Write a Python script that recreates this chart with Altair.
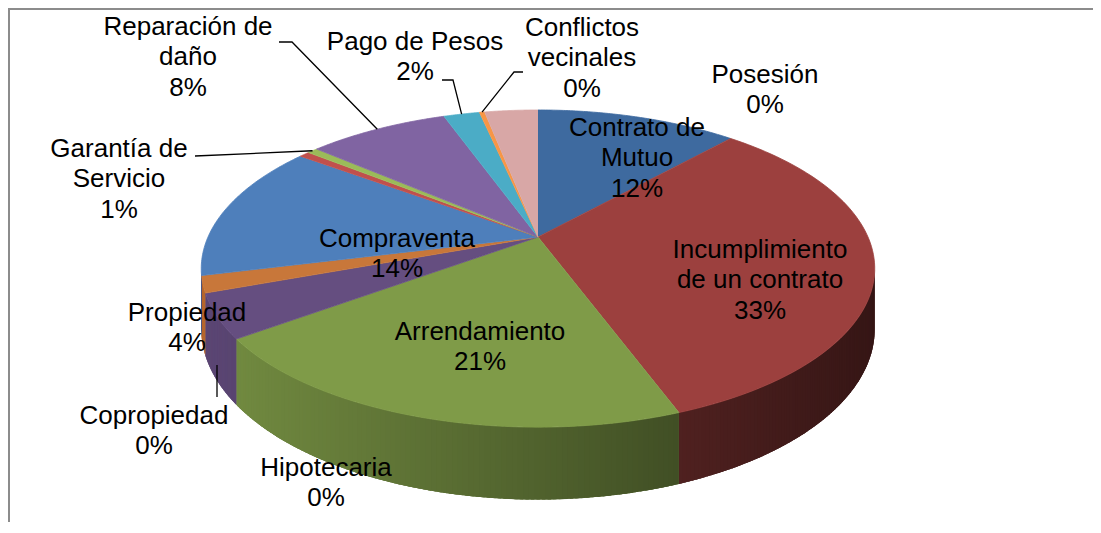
import math
import altair as alt
import pandas as pd

# ---------------- data ----------------
categories = ["Contrato de Mutuo", "Incumplimiento de un contrato", "Arrendamiento",
              "Propiedad", "Copropiedad", "Compraventa", "Hipotecaria",
              "Garantía de Servicio", "Reparación de daño", "Pago de Pesos",
              "Conflictos vecinales", "Posesión"]
values = [11.7, 32.7, 20.6, 4.5, 1.7, 14.0, 0.6, 0.6, 8.2, 2.1, 0.3, 3.1]
name_lines = ["Contrato de\nMutuo", "Incumplimiento\nde un contrato", "Arrendamiento",
              "Propiedad", "Copropiedad", "Compraventa", "Hipotecaria",
              "Garantía de\nServicio", "Reparación de\ndaño", "Pago de Pesos",
              "Conflictos\nvecinales", "Posesión"]
percent_labels = ["12%", "33%", "21%", "4%", "0%", "14%", "0%", "1%", "8%", "2%", "0%", "0%"]
colors = ["#3E6A9F", "#9C403E", "#7F9B48", "#654E80", "#C8773A", "#4E7FBB",
          "#C0504D", "#9BBB59", "#8064A2", "#4BACC6", "#F79646", "#D8A7A6"]

# label layout (page pixels, centre of each text block)
label_x = [637, 760, 480, 187, 154, 397, 326, 119, 188, 415, 582, 765]
label_y = [158, 280, 347, 328, 431, 254, 483, 179, 57, 57, 58, 90]

# leader lines: label-side points; a None point means "the slice rim"
leader_cats = ["Copropiedad", "Garantía de Servicio", "Reparación de daño",
               "Pago de Pesos", "Conflictos vecinales"]
leader_px = [[217, 217], [195, None], [279, 292, None], [442, 453, None], [523, 514, None]]
leader_py = [[397, 365], [156, None], [42, 42, None], [80, 80, None], [72, 72, None]]

# ---------------- layout ----------------
W, H = 1085, 514
X0, Y0 = 8, 8                      # page margin: scales read in page pixels
CX, CY = 538, 237                  # projected pie centre
A, BV, K, D = 330, 152.3, 0.199, 58  # perspective ellipse, depth of the side wall
S1 = math.acos(-K)
S2 = 2 * math.pi - S1
LH = 30.5

slices = pd.DataFrame({
    "cat": categories, "val": values, "color": colors,
    "ord": list(range(len(categories))),
    "r": [int(c[1:3], 16) for c in colors],
    "g": [int(c[3:5], 16) for c in colors],
    "b": [int(c[5:7], 16) for c in colors],
})
texts_full = [n + "\n" + p for n, p in zip(name_lines, percent_labels)]
labels_df = pd.DataFrame({
    "cat": categories,
    "text": texts_full,
    "nl": [t.count("\n") + 1 for t in texts_full],
    "lx": label_x, "ly": label_y,
})
leader_records = [
    {"cat": c, "lpx": px, "lpy": py, "lst": list(range(len(px)))}
    for c, px, py in zip(leader_cats, leader_px, leader_py)
]

xs = alt.Scale(domain=[X0, X0 + W], zero=False, nice=False)
ys = alt.Scale(domain=[Y0, Y0 + H], zero=False, nice=False, reverse=True)


def xexpr(t):
    return f"{CX} + {A}*sin({t})/(1+{K}*cos({t}))"


def yexpr(t):
    return f"{CY} - {BV}*cos({t})/(1+{K}*cos({t}))"


def shade_expr(t):
    return f"clamp(0.63 - 0.28*sin({t})/(1+{K}*cos({t})), 0.3, 0.97)"


RGB = "'rgb(' + round(datum.r*datum.f) + ',' + round(datum.g*datum.f) + ',' + round(datum.b*datum.f) + ')'"


def with_angles(ch):
    return (ch.transform_window(cum="sum(val)", sort=[alt.SortField("ord")], frame=[None, 0])
              .transform_joinaggregate(total="sum(val)")
              .transform_calculate(a0="2*PI*(datum.cum-datum.val)/datum.total")
              .transform_calculate(a1="2*PI*datum.cum/datum.total"))


def front_range(ch):
    return (with_angles(ch)
            .transform_calculate(lo=f"max(datum.a0, {S1})")
            .transform_calculate(hi=f"min(datum.a1, {S2})")
            .transform_filter("datum.lo < datum.hi"))


X = alt.X("px:Q", scale=xs, axis=None)
Y = alt.Y("py:Q", scale=ys, axis=None)

# ---- side walls: one base polygon per slice ----
NB = 60
wall_base = (front_range(alt.Chart(slices))
             .transform_calculate(ks=f"sequence(0, {2 * (NB + 1)})")
             .transform_flatten(["ks"], as_=["k"])
             .transform_calculate(
                 t=f"datum.k <= {NB} ? datum.lo + (datum.hi-datum.lo)*datum.k/{NB} : "
                   f"datum.lo + (datum.hi-datum.lo)*({2 * NB + 1} - datum.k)/{NB}")
             .transform_calculate(px=xexpr("datum.t"))
             .transform_calculate(ytop=yexpr("datum.t"))
             .transform_calculate(py=f"datum.k <= {NB} ? datum.ytop : datum.ytop + {D}/(1+{K}*cos(datum.t))")
             .transform_calculate(f=shade_expr("(datum.lo + datum.hi)/2"))
             .transform_calculate(shade=RGB)
             .mark_line(filled=True, strokeWidth=0, interpolate="linear")
             .encode(x=X, y=Y, order="k:Q", detail="cat:N",
                     color=alt.Color("shade:N", scale=None)))

# ---- side walls: shaded strips (each overlaps the next a little, hiding seams) ----
M = 96
walls = (front_range(alt.Chart(slices))
         .transform_calculate(js=f"sequence(0, {M})")
         .transform_flatten(["js"], as_=["j"])
         .transform_calculate(vs="sequence(0, 4)")
         .transform_flatten(["vs"], as_=["v"])
         .transform_calculate(tA=f"datum.lo + (datum.hi-datum.lo)*datum.j/{M}")
         .transform_calculate(tB=f"min(datum.hi, datum.lo + (datum.hi-datum.lo)*(datum.j+1.6)/{M})")
         .transform_calculate(t="(datum.v == 0 || datum.v == 3) ? datum.tA : datum.tB")
         .transform_calculate(tm=f"datum.lo + (datum.hi-datum.lo)*(datum.j+0.5)/{M}")
         .transform_calculate(seg="datum.cat + '_' + datum.j")
         .transform_calculate(px=xexpr("datum.t"))
         .transform_calculate(ytop=yexpr("datum.t"))
         .transform_calculate(py=f"datum.v < 2 ? datum.ytop : datum.ytop + {D}/(1+{K}*cos(datum.t))")
         .transform_calculate(f=shade_expr("datum.tm"))
         .transform_calculate(shade=RGB)
         .mark_line(filled=True, strokeWidth=0, interpolate="linear")
         .encode(x=X, y=Y, order="v:Q", detail="seg:N",
                 color=alt.Color("shade:N", scale=None)))

# ---- top faces ----
N = 80
tops = (with_angles(alt.Chart(slices))
        .transform_calculate(ks=f"sequence(0, {N + 2})")
        .transform_flatten(["ks"], as_=["k"])
        .transform_calculate(t=f"datum.a0 + (datum.a1 - datum.a0)*(datum.k - 1)/{N}")
        .transform_calculate(px=f"datum.k == 0 ? {CX} : " + xexpr("datum.t"))
        .transform_calculate(py=f"datum.k == 0 ? {CY} : " + yexpr("datum.t"))
        .mark_line(filled=True, strokeWidth=0.8, interpolate="linear")
        .encode(x=X, y=Y, order="k:Q", detail="cat:N",
                color=alt.Color("color:N", scale=None),
                stroke=alt.Stroke("color:N", scale=None)))

# ---- leader lines ----
leaders = (with_angles(alt.Chart(slices))
           .transform_lookup(lookup="cat",
                             from_=alt.LookupData(data=alt.InlineData(values=leader_records),
                                                  key="cat", fields=["lpx", "lpy", "lst"]))
           .transform_filter("isValid(datum.lst)")
           .transform_flatten(["lpx", "lpy", "lst"], as_=["qx", "qy", "s"])
           .transform_calculate(tm="(datum.a0 + datum.a1)/2")
           .transform_calculate(px="isValid(datum.qx) ? datum.qx : " + xexpr("datum.tm"))
           .transform_calculate(py="isValid(datum.qy) ? datum.qy : " + yexpr("datum.tm"))
           .mark_line(color="black", strokeWidth=1.3)
           .encode(x=X, y=Y, order="s:Q", detail="cat:N"))

# ---- labels (y of first line = block centre minus half the extra lines) ----
texts = (alt.Chart(labels_df)
         .transform_calculate(ty=f"datum.ly - (datum.nl - 1)*{LH}/2")
         .mark_text(font="Liberation Sans", fontSize=26, lineHeight=LH, lineBreak="\n",
                    align="center", baseline="middle", color="black")
         .encode(x=alt.X("lx:Q", scale=xs, axis=None),
                 y=alt.Y("ty:Q", scale=ys, axis=None),
                 text="text:N"))

one = pd.DataFrame({"a": [0]})
border_top = alt.Chart(one).mark_rule(color="#8c8c8c", strokeWidth=2).encode(
    x=alt.value(0), x2=alt.value(W), y=alt.value(1))
border_left = alt.Chart(one).mark_rule(color="#8c8c8c", strokeWidth=2).encode(
    x=alt.value(1), y=alt.value(0), y2=alt.value(H))

chart = (alt.layer(wall_base, walls, tops, leaders, texts, border_top, border_left)
         .properties(width=W, height=H, padding=0, autosize="none")
         .configure_view(strokeWidth=0))

chart.save("out.html", embed_options={"renderer": "svg", "actions": False})
